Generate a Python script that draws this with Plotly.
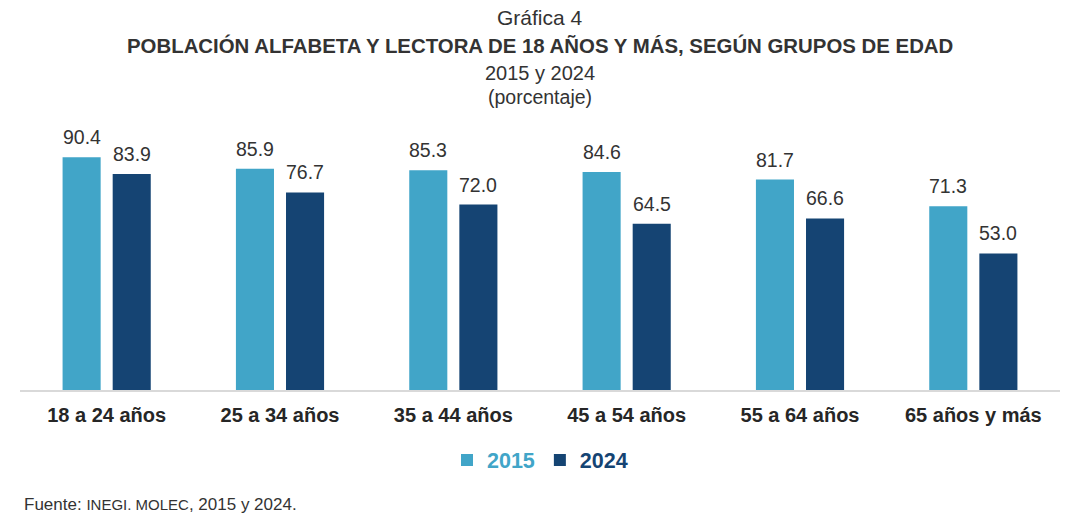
import plotly.graph_objects as go

categorias = ["18 a 24 años", "25 a 34 años", "35 a 44 años", "45 a 54 años", "55 a 64 años", "65 años y más"]
valores_2015 = [90.4, 85.9, 85.3, 84.6, 81.7, 71.3]
valores_2024 = [83.9, 76.7, 72.0, 64.5, 66.6, 53.0]
series = [("2015", valores_2015, "#41A5C8"), ("2024", valores_2024, "#154473")]

FONT = "Liberation Sans, Arial, sans-serif"
TXT = "#333333"

fig = go.Figure()
for nombre, vals, color in series:
    fig.add_trace(go.Bar(
        x=categorias, y=vals,
        name=f"<span style='color:{color}'><b>{nombre}</b></span>",
        marker=dict(color=color, line=dict(width=0)),
        hoverinfo="x+y",
    ))

annotations = []
for i, (nombre, vals, color) in enumerate(series):
    shift = -25 if i == 0 else 25
    for c, v in zip(categorias, vals):
        annotations.append(dict(
            x=c, y=v, xref="x", yref="y", xshift=shift, yshift=7,
            text=f"{v:.1f}", showarrow=False, yanchor="bottom",
            font=dict(family=FONT, size=19.5, color=TXT),
        ))

titulos = [
    ("Gráfica 4", 17, 21, False),
    ("POBLACIÓN ALFABETA Y LECTORA DE 18 AÑOS Y MÁS, SEGÚN GRUPOS DE EDAD", 46, 20.4, True),
    ("2015 y 2024", 73, 20, False),
    ("(porcentaje)", 97, 19.5, False),
]
for t, ypx, size, bold in titulos:
    annotations.append(dict(
        x=0.5, xref="paper", y=1 + (110 - ypx) / 280, yref="paper",
        text=f"<b>{t}</b>" if bold else t, showarrow=False,
        xanchor="center", yanchor="middle",
        font=dict(family=FONT, size=size, color=TXT),
    ))

annotations.append(dict(
    x=(22 - 20) / 1040, xref="paper", y=(390 - 505) / 280, yref="paper",
    text="Fuente: <span style='font-size:15px'>INEGI. MOLEC</span>, 2015 y 2024.",
    showarrow=False, xanchor="left", yanchor="middle",
    font=dict(family=FONT, size=17, color=TXT),
))

fig.update_layout(
    width=1080, height=527,
    margin=dict(l=20, r=20, t=110, b=137),
    paper_bgcolor="white", plot_bgcolor="white",
    barmode="group", bargap=0.422, bargroupgap=0.24,
    showlegend=True,
    legend=dict(
        orientation="h", x=0.5, xanchor="center",
        y=(390 - 460) / 280, yanchor="middle",
        font=dict(family=FONT, size=21.5, color=TXT),
        itemwidth=30, traceorder="normal",
    ),
    xaxis=dict(
        showline=True, linecolor="#d9d9d9", linewidth=2,
        showgrid=False, ticks="", ticklabelstandoff=6,
        tickfont=dict(family=FONT, size=20, color="#262626", weight="bold"),
    ),
    yaxis=dict(range=[0, 108.7], visible=False, showgrid=False, zeroline=False),
    annotations=annotations,
)

fig.write_html("out.html")
